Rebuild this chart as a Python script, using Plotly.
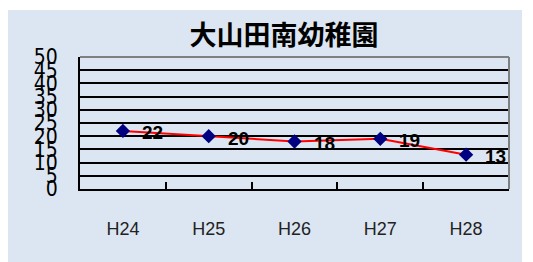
import plotly.graph_objects as go

categories = ["H24", "H25", "H26", "H27", "H28"]
values = [22, 20, 18, 19, 13]
y_ticks = [0, 5, 10, 15, 20, 25, 30, 35, 40, 45, 50]
title_text = "大山田南幼稚園"

fig = go.Figure()
fig.add_trace(go.Scatter(
    x=categories, y=values, mode="lines+markers",
    line=dict(color="#ff0000", width=2),
    marker=dict(symbol="diamond", size=11, color="#000080"),
    hoverinfo="skip", cliponaxis=False,
))

for c, v in zip(categories, values):
    fig.add_annotation(x=c, y=v, text=str(v), showarrow=False,
                       xanchor="left", yanchor="middle", xshift=17, yshift=-2,
                       font=dict(family="Liberation Sans, Arial", size=19, color="#000000", weight="bold"))

W, H = 533, 262
L, R, T, B = 80, 24, 57, 73
pw, ph = W - L - R, H - T - B

def px(x):
    return (x - L) / pw

def py(y):
    return (H - B - y) / ph

# light blue panel
fig.add_shape(type="rect", xref="paper", yref="paper",
              x0=px(8), x1=px(522), y0=py(262), y1=py(10),
              fillcolor="#dce6f2", line=dict(width=0), layer="below")
# gray top and right border
fig.add_shape(type="line", xref="paper", yref="paper", x0=0, x1=1, y0=1, y1=1,
              line=dict(color="#808080", width=2))
fig.add_shape(type="line", xref="paper", yref="paper", x0=1, x1=1, y0=0, y1=1,
              line=dict(color="#808080", width=2))

fig.update_layout(
    width=W, height=H,
    margin=dict(l=L, r=R, t=T, b=B),
    paper_bgcolor="#ffffff", plot_bgcolor="#ffffff",
    showlegend=False,
    title=dict(text=title_text, xref="container", yref="container",
               x=284 / W, xanchor="center", y=1 - 36 / H, yanchor="middle",
               font=dict(family="Noto Sans CJK JP", size=27, color="#000000", weight="bold")),
    xaxis=dict(type="category", tickson="boundaries", ticks="inside", ticklen=7,
               tickwidth=2, tickcolor="#000000", showgrid=False,
               showline=True, linecolor="#000000", linewidth=2,
               ticklabelstandoff=22,
               tickfont=dict(family="Liberation Sans, Arial", size=18, color="#222222"),
               range=[-0.5, 4.5]),
    yaxis=dict(range=[0, 50], tickvals=y_ticks, ticktext=[str(t) for t in y_ticks],
               showgrid=True, gridcolor="#000000", gridwidth=2,
               showline=True, linecolor="#000000", linewidth=2,
               ticks="", zeroline=False, ticklabelstandoff=16,
               tickfont=dict(family="Liberation Sans Narrow, DejaVu Sans Condensed, Arial Narrow, sans-serif",
                             size=21, color="#000000")),
)

fig.write_html("out.html", post_script="document.body.style.margin='0';", config={"displayModeBar": False})
